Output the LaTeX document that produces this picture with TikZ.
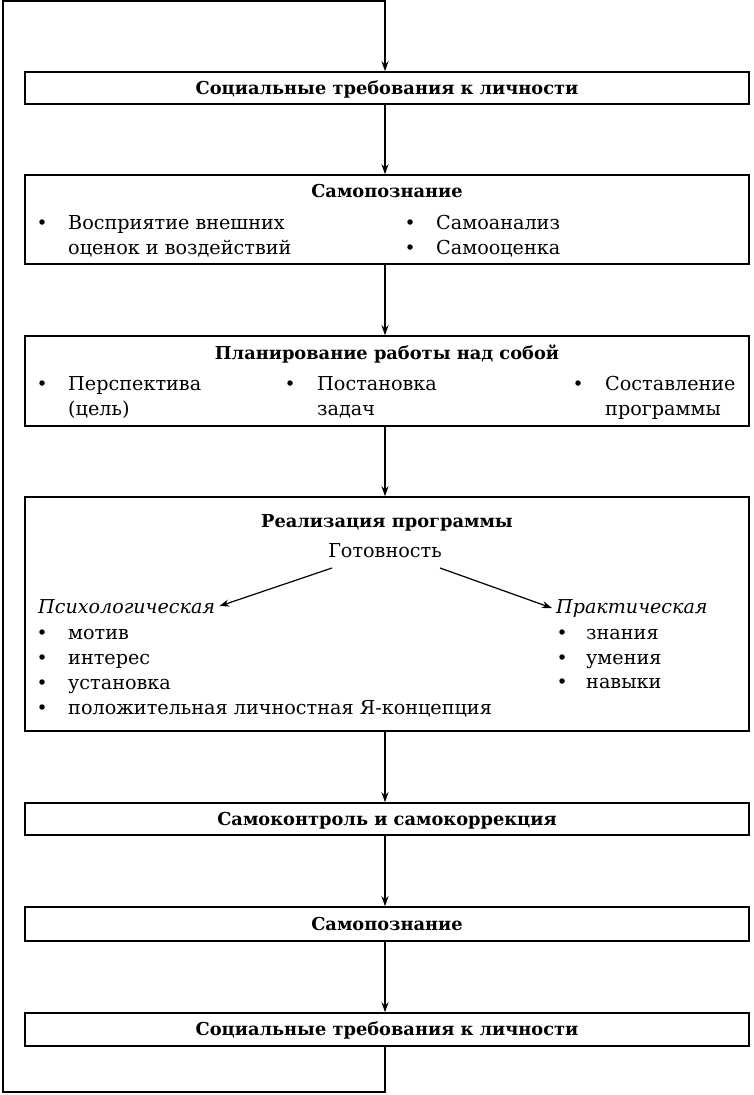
\documentclass[tikz,border=0pt]{standalone}
\usepackage{fontspec}
\setmainfont{DejaVu Serif}
\usetikzlibrary{arrows.meta}
\begin{document}
\begin{tikzpicture}[x=1pt,y=-1pt,
  box/.style={draw,line width=1.6pt,minimum width=724pt,inner sep=0pt},
  tip/.tip={Stealth[length=10pt,width=7pt]},
  arr/.style={-tip,line width=1.2pt},
  loop/.style={line width=1.6pt},
  ff/.style={font=\fontsize{19.2}{23}\selectfont},
  txt/.style={ff,anchor=base west,inner sep=0pt},
  ttl/.style={anchor=base,inner sep=0pt,font=\fontsize{17.8}{21}\selectfont\bfseries},
  ital/.style={anchor=base west,inner xsep=4pt,inner ysep=0pt,font=\fontsize{19.1}{23}\selectfont\itshape},
  bul/.style={anchor=center,fill,circle,inner sep=0pt,minimum size=5.5pt}]
\useasboundingbox (0,0) rectangle (754,1095);
\coordinate (ax) at (385,0);
\coordinate (tl) at (3,1);
\coordinate (bl) at (3,1092);
% boxes
\node[box,minimum height=32pt] (b1) at (387,88) {};
\node[box,minimum height=89pt] (b2) at (387,219.5) {};
\node[box,minimum height=90pt] (b3) at (387,381) {};
\node[box,minimum height=234pt] (b4) at (387,614) {};
\node[box,minimum height=32pt] (b5) at (387,819) {};
\node[box,minimum height=34pt] (b6) at (387,924) {};
\node[box,minimum height=33pt] (b7) at (387,1029.5) {};
% titles
\node[ttl] (t1) at (387,94) {Социальные требования к личности};
\node[ttl] (t2) at (387,197) {Самопознание};
\node[ttl] (t3) at (387,359) {Планирование работы над собой};
\node[ttl] (t4) at (387,527) {Реализация программы};
\node[ttl] (t5) at (387,825) {Самоконтроль и самокоррекция};
\node[ttl] (t6) at (387,930) {Самопознание};
\node[ttl] (t7) at (387,1035) {Социальные требования к личности};
% box 2
\node[bul] (p21) at (42,222) {};
\node[txt] (s21) at (68,229) {Восприятие внешних};
\node[txt] (s22) at (68,254) {оценок и воздействий};
\node[bul] (p23) at (410,222) {};
\node[txt] (s23) at (436,229) {Самоанализ};
\node[bul] (p24) at (410,247) {};
\node[txt] (s24) at (436,254) {Самооценка};
% box 3
\node[bul] (p31) at (42,383) {};
\node[txt] (s31) at (68,390) {Перспектива};
\node[txt] (s32) at (68,415) {(цель)};
\node[bul] (p33) at (290,383) {};
\node[txt] (s33) at (317,390) {Постановка};
\node[txt] (s34) at (317,415) {задач};
\node[bul] (p35) at (578,383) {};
\node[txt] (s35) at (605,390) {Составление};
\node[txt] (s36) at (605,415) {программы};
% box 4
\node[anchor=base,inner sep=0pt,ff] (g) at (385,557) {Готовность};
\node[ital] (psy) at (34,613) {Психологическая};
\node[ital] (pra) at (552,613) {Практическая};
\coordinate (g1) at (332,568);
\coordinate (g2) at (440,568);
\draw[arr] (g1) -- (psy.east);
\draw[arr] (g2) -- (pra.west);
\node[bul] (p41) at (42,632) {};
\node[txt] (s41) at (68,639) {мотив};
\node[bul] (p42) at (42,657) {};
\node[txt] (s42) at (68,664) {интерес};
\node[bul] (p43) at (42,682) {};
\node[txt] (s43) at (68,689) {установка};
\node[bul] (p44) at (42,707) {};
\node[txt] (s44) at (68,714) {положительная личностная Я-концепция};
\node[bul] (p45) at (562,632) {};
\node[txt] (s45) at (586,639) {знания};
\node[bul] (p46) at (562,657) {};
\node[txt] (s46) at (586,664) {умения};
\node[bul] (p47) at (562,681) {};
\node[txt] (s47) at (586,688) {навыки};
% arrows
\draw[arr] (b1.south -| ax) -- (b2.north -| ax);
\draw[arr] (b2.south -| ax) -- (b3.north -| ax);
\draw[arr] (b3.south -| ax) -- (b4.north -| ax);
\draw[arr] (b4.south -| ax) -- (b5.north -| ax);
\draw[arr] (b5.south -| ax) -- (b6.north -| ax);
\draw[arr] (b6.south -| ax) -- (b7.north -| ax);
% feedback loop
\draw[loop,-tip] (b7.south -| ax) -- (ax |- bl) -- (bl) -- (tl) -- (ax |- tl) -- (b1.north -| ax);
\end{tikzpicture}
\end{document}
